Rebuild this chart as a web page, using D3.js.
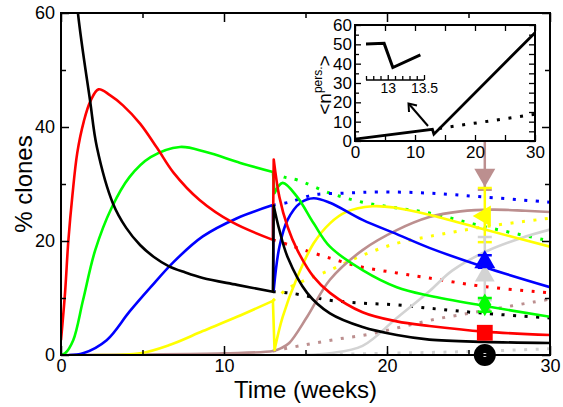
<!DOCTYPE html>
<html>
<head>
<meta charset="utf-8">
<script src="https://cdn.jsdelivr.net/npm/d3@7"></script>
<style>
  body { margin: 0; background: #fff; }
  svg { display: block; font-family: "Liberation Sans", Arial, Helvetica, sans-serif; }
  .tick text { fill: #000; }
</style>
</head>
<body>
<svg id="chart" width="563" height="407"></svg>
<script>
// ---- Model output: % of clones in each class over time (weeks) ----
const blackSolid = [[0.6,76],[1.04,60],[1.78,44.7],[2.2,36.5],[3.2,26.5],[4,22.3],[4.85,19.3],[5.7,17.2],[6.6,15.6],[7.6,14.5],
  [8.7,13.5],[10.8,12.3],[13,11.1],
  [13.05,26.2],[13.4,21.9],[13.9,17.2],[15.1,10.9],[16.5,7.3],[18.5,4.9],[20.6,3.5],[22.6,2.7],[26,2.3],[30,2.1]];
const redSolid = [[0,2.6],[0.25,11],[0.45,20],[0.7,28],[1.0,35.5],[1.4,41],[1.8,44.5],[2.3,46.6],[3.0,45.6],[3.8,43.8],[4.85,40.6],
  [5.9,36.3],[6.9,32.0],[8.5,27.2],[10.5,23.3],[13,20.2],[13.05,34.3],[13.4,27.7],[13.9,22.5],[14.5,18.4],[15.5,13.7],[16.5,10.9],
  [18.5,7.5],[20.6,5.9],[22.6,5.1],[26,4.1],[30,3.5]];
const greenSolid = [[0,0],[0.25,0.3],[0.75,2.6],[1.35,9.6],[2.1,18.4],[3.1,25.8],[4.2,31.2],[5.5,34.7],[7.3,36.5],[8.9,35.6],
  [11,33.7],[13,32.1],[13.1,28.4],[13.6,30.2],[14.5,27.7],[15.5,23.1],[16.5,19.0],[18.5,14.9],[20.6,11.9],[22.6,10.4],[26,8.6],[30,6.7]];
const blueSolid = [[0.5,0],[1.35,0.3],[2.8,2.6],[4.2,7.6],[5.5,11.9],[6.9,16.3],[8.7,20.8],[10.8,24.0],[13,26.3],[13.05,11.4],
  [13.4,19],[13.9,23.7],[14.7,26.7],[15.5,27.5],[16.5,26.7],[18.5,23.7],[20.6,21.2],[22.6,18.8],[26,15.4],[30,11.9]];
const yellowSolid = [[2,0],[4.85,0.3],[6.7,1.8],[8.7,4.2],[10.8,6.7],[13,9.5],[13.1,0.9],[13.6,6.7],[14.5,13.7],[15.5,19.6],
  [16.5,23.1],[17.5,25.1],[19.1,26.1],[20.6,25.8],[22.6,24.6],[26,22],[30,19]];
const brownSolid = [[0,0],[5,0.1],[10,0.3],[13,0.7],[13.5,1.2],[14,2.1],[15.1,6.7],[16.5,13.2],[18.5,18.4],[20.6,21.9],
  [22.6,24.2],[24.5,25.2],[26.5,25.5],[28.5,25.3],[30,25.1]];
const graySolid = [[15,0],[16.5,0.3],[18.5,1.6],[20.6,6.5],[22.6,11.2],[24,14.8],[26.1,18.2],[28.2,20.5],[30,22]];

const blueDotted   = [[13,26.3],[14,26.8],[15.5,28.1],[17.5,28.4],[19.5,28.6],[22.6,28.4],[26,27.7],[30,26.8]];
const greenDotted  = [[13,32],[13.7,31.2],[14.5,30.7],[16.5,28.4],[18.5,26.8],[20.6,25.8],[22.6,24.9],[26,22.5],[30,20]];
const yellowDotted = [[13,9.5],[14,11.8],[16.5,14.9],[18.5,17.5],[20.6,19.6],[22.6,20.8],[26,22.5],[30,24]];
const redDotted    = [[13,20.2],[14,19.3],[14.5,18.8],[16.5,17],[18.5,15.4],[20.6,14.4],[22.6,13.5],[26,12],[30,10.9]];
const blackDotted  = [[13,11.1],[14,10.9],[16.5,9.6],[18.5,9.1],[20.6,8.8],[22.6,8.2],[26,7.3],[30,6.5]];
const brownDotted  = [[13,0.7],[15,1.8],[17,2.8],[19,3.7],[21,5],[23,6.3],[25,7.3],[27,8.3],[29,9.3],[30,9.8]];
const grayDotted   = [[15,0],[20,0.3],[25,0.6],[30,1.1]];

// ---- Measured data at week 26 (mean with error bars) ----
const markerTime   = 26;
const markerNames  = ["brown", "yellow", "gray", "blue", "green", "red", "black"];
const markerValues = [31.6, 24.4, 13.9, 16.3, 8.8, 3.9, 0];
const markerLow    = [29.0, 19.8, 9.6, 15.3, 7.6, 3.9, 0];
const markerHigh   = [45.0, 29.3, 20.7, 17.5, 10.0, 3.9, 0];

// ---- Inset: mean persistent clone size <n pers.> ----
const insetSolid  = [[0,1],[12.9,6],[13.15,3.5],[30,56]];
const insetDotted = [[14,6.5],[30,13.8]];
const zoomSolid   = [[12.7,50.2],[12.95,50.5],[13.07,38],[13.45,44.5]];

// ---- Tick labels ----
const xMajor = [0,10,20,30], xMinor = [5,15,25];
const yMajor = [0,20,40,60], yMinor = [10,30,50];
const insetXMajor = [0,10,20,30], insetXMinor = [5,15,25];
const insetYMajor = [0,10,20,30,40,50,60], insetYMinor = [5,15,25,35,45,55];
const zoomMajor = [13,13.5], zoomMinor = [12.7,12.8,12.9,13.1,13.2,13.3,13.4];

const colors = {
  black: "#000000", red: "#ff0000", green: "#00ff00", blue: "#0000ff",
  yellow: "#ffff00", brown: "#bc8f8f", gray: "#d3d3d3"
};

const svg = d3.select("#chart");
const x = d3.scaleLinear().domain([0,30]).range([61,550]);
const y = d3.scaleLinear().domain([0,60]).range([355,13]);

svg.append("defs").append("clipPath").attr("id","plotClip")
  .append("rect").attr("x",61).attr("y",13).attr("width",489).attr("height",342);

// Smooth curve through each stretch; the treatment switch at week 13 is a sharp jump,
// so the series is split there and the pieces are joined by a straight segment.
const smooth = d3.line().x(d => x(d[0])).y(d => y(d[1])).curve(d3.curveCatmullRom.alpha(0.5));
function pathWithJumps(data) {
  const pieces = [];
  let cur = [data[0]];
  for (let i = 1; i < data.length; i++) {
    if (data[i][0] - data[i-1][0] < 0.15) { pieces.push(cur); cur = [data[i]]; }
    else cur.push(data[i]);
  }
  pieces.push(cur);
  let d = "";
  pieces.forEach((p, k) => {
    let s = smooth(p.length === 1 ? [p[0], p[0]] : p);
    if (k > 0) s = "L" + s.slice(1);
    d += s;
  });
  return d;
}
const curves = svg.append("g").attr("clip-path","url(#plotClip)");

// dotted continuations first, solid curves on top
const dotted = [
  [grayDotted, "gray"], [brownDotted, "brown"], [blackDotted, "black"], [redDotted, "red"],
  [yellowDotted, "yellow"], [greenDotted, "green"], [blueDotted, "blue"]
];
dotted.forEach(([data, c]) => {
  curves.append("path").attr("d", smooth(data)).attr("fill","none")
    .attr("stroke", colors[c]).attr("stroke-width", 3)
    .attr("stroke-dasharray", "3 8.5");
});

const solid = [
  [graySolid, "gray"], [brownSolid, "brown"], [yellowSolid, "yellow"], [blueSolid, "blue"],
  [greenSolid, "green"], [redSolid, "red"], [blackSolid, "black"]
];
solid.forEach(([data, c]) => {
  curves.append("path").attr("d", pathWithJumps(data)).attr("fill","none")
    .attr("stroke", colors[c]).attr("stroke-width", 2.6).attr("stroke-linejoin","round");
});

// error bars and markers
const mx = x(markerTime);
const bars = svg.append("g");
markerNames.forEach((n, i) => {
  if (markerLow[i] === markerHigh[i]) return;
  bars.append("line").attr("x1",mx).attr("x2",mx)
    .attr("y1",y(markerLow[i])).attr("y2",y(markerHigh[i]))
    .attr("stroke",colors[n]).attr("stroke-width",2.5);
  [markerLow[i], markerHigh[i]].forEach(v => {
    bars.append("line").attr("x1",mx-7).attr("x2",mx+7)
      .attr("y1",y(v)).attr("y2",y(v))
      .attr("stroke",colors[n]).attr("stroke-width",2.5);
  });
});

const shapes = {
  brown:  { type: d3.symbolTriangle, size: 190, rot: 180 },
  yellow: { type: d3.symbolTriangle, size: 190, rot: -90 },
  gray:   { type: d3.symbolTriangle, size: 170, rot: 0 },
  blue:   { type: d3.symbolTriangle, size: 190, rot: 0 },
  green:  { type: d3.symbolDiamond,  size: 150, rot: 0 },
  red:    { type: d3.symbolSquare,   size: 250, rot: 0 },
  black:  { type: d3.symbolCircle,   size: 380, rot: 0 }
};
const drawOrder = ["brown","yellow","gray","blue","green","red","black"];
drawOrder.forEach(n => {
  const i = markerNames.indexOf(n);
  const s = shapes[n];
  bars.append("path")
    .attr("d", d3.symbol().type(s.type).size(s.size)())
    .attr("transform", `translate(${mx},${y(markerValues[i])}) rotate(${s.rot})`)
    .attr("fill", colors[n]);
});
bars.append("circle").attr("cx",mx).attr("cy",y(markerValues[markerNames.indexOf("black")]))
  .attr("r",2).attr("fill","#fff");

// ---- main axes ----
function styleAxis(g, fs) {
  g.select(".domain").remove();
  g.selectAll(".tick line").attr("stroke","#000").attr("stroke-width",1.5);
  g.selectAll(".tick text").attr("font-size", fs).attr("font-family", "Liberation Sans, Arial, sans-serif");
}
const axB = svg.append("g").attr("transform","translate(0,355)")
  .call(d3.axisBottom(x).tickValues(xMajor).tickSize(-9).tickPadding(4).tickFormat(d3.format("d")));
styleAxis(axB, 18);
const axBm = svg.append("g").attr("transform","translate(0,355)")
  .call(d3.axisBottom(x).tickValues(xMinor).tickSize(-5).tickFormat(""));
styleAxis(axBm, 18);
const axT = svg.append("g").attr("transform","translate(0,13)")
  .call(d3.axisTop(x).tickValues(xMajor).tickSize(-9).tickFormat(""));
styleAxis(axT, 18);
const axTm = svg.append("g").attr("transform","translate(0,13)")
  .call(d3.axisTop(x).tickValues(xMinor).tickSize(-5).tickFormat(""));
styleAxis(axTm, 18);
const axL = svg.append("g").attr("transform","translate(61,0)")
  .call(d3.axisLeft(y).tickValues(yMajor).tickSize(-8).tickPadding(6).tickFormat(d3.format("d")));
styleAxis(axL, 18);
const axLm = svg.append("g").attr("transform","translate(61,0)")
  .call(d3.axisLeft(y).tickValues(yMinor).tickSize(-5).tickFormat(""));
styleAxis(axLm, 18);
const axR = svg.append("g").attr("transform","translate(550,0)")
  .call(d3.axisRight(y).tickValues(yMajor).tickSize(-8).tickFormat(""));
styleAxis(axR, 18);
const axRm = svg.append("g").attr("transform","translate(550,0)")
  .call(d3.axisRight(y).tickValues(yMinor).tickSize(-5).tickFormat(""));
styleAxis(axRm, 18);

svg.append("rect").attr("x",61).attr("y",13).attr("width",489).attr("height",342)
  .attr("fill","none").attr("stroke","#000").attr("stroke-width",2);

svg.append("text").attr("x",305.5).attr("y",398).attr("text-anchor","middle")
  .attr("font-size",24).text("Time (weeks)");
svg.append("text").attr("transform","translate(32,184) rotate(-90)").attr("text-anchor","middle")
  .attr("font-size",24).text("% clones");

// ---- inset ----
const xi = d3.scaleLinear().domain([0,30]).range([355,535]);
const yi = d3.scaleLinear().domain([0,60]).range([141,25]);
const inset = svg.append("g");
inset.append("rect").attr("x",355).attr("y",25).attr("width",180).attr("height",116).attr("fill","#fff");

const iline = d3.line().x(d => xi(d[0])).y(d => yi(d[1]));
inset.append("path").attr("d", iline(insetDotted)).attr("fill","none").attr("stroke","#000")
  .attr("stroke-width",3).attr("stroke-dasharray","3 8.7");
inset.append("path").attr("d", iline(insetSolid)).attr("fill","none").attr("stroke","#000")
  .attr("stroke-width",2.8).attr("stroke-linejoin","miter");

const iB = inset.append("g").attr("transform","translate(0,141)")
  .call(d3.axisBottom(xi).tickValues(insetXMajor).tickSize(-6).tickPadding(5).tickFormat(d3.format("d")));
styleAxis(iB, 17);
const iBm = inset.append("g").attr("transform","translate(0,141)")
  .call(d3.axisBottom(xi).tickValues(insetXMinor).tickSize(-6).tickFormat(""));
styleAxis(iBm, 17);
const iT = inset.append("g").attr("transform","translate(0,25)")
  .call(d3.axisTop(xi).tickValues(insetXMajor.concat(insetXMinor)).tickSize(-6).tickFormat(""));
styleAxis(iT, 17);
const iL = inset.append("g").attr("transform","translate(355,0)")
  .call(d3.axisLeft(yi).tickValues(insetYMajor).tickSize(-6).tickPadding(3).tickFormat(d3.format("d")));
styleAxis(iL, 17);
const iLm = inset.append("g").attr("transform","translate(355,0)")
  .call(d3.axisLeft(yi).tickValues(insetYMinor).tickSize(-4).tickFormat(""));
styleAxis(iLm, 17);
const iR = inset.append("g").attr("transform","translate(535,0)")
  .call(d3.axisRight(yi).tickValues(insetYMajor.concat(insetYMinor)).tickSize(-6).tickFormat(""));
styleAxis(iR, 17);
inset.selectAll(".tick line").attr("stroke-width",1.3);
inset.append("rect").attr("x",355).attr("y",25).attr("width",180).attr("height",116)
  .attr("fill","none").attr("stroke","#000").attr("stroke-width",2);

// inset y label: <n^pers.>
const ilab = inset.append("text").attr("transform","translate(331,85) rotate(-90)")
  .attr("text-anchor","middle").attr("font-size",19);
ilab.append("tspan").text("<n");
ilab.append("tspan").attr("font-size",12).attr("dy",-9).text("pers.");
ilab.append("tspan").attr("dy",9).text(">");

// zoomed view around week 13
const xz = d3.scaleLinear().domain([12.7,13.5]).range([366,424]);
const zline = d3.line().x(d => xz(d[0])).y(d => yi(d[1]));
inset.append("path").attr("d", zline(zoomSolid)).attr("fill","none").attr("stroke","#000")
  .attr("stroke-width",3).attr("stroke-linejoin","miter");
const zB = inset.append("g").attr("transform","translate(0,80)")
  .call(d3.axisBottom(xz).tickValues(zoomMajor).tickSize(-5).tickPadding(3).tickFormat(d => d === 13 ? "13" : "13.5"));
zB.selectAll(".tick text").attr("font-size",14);
zB.select(".domain").remove();
zB.selectAll(".tick line").attr("stroke","#000").attr("stroke-width",1.3);
const zBm = inset.append("g").attr("transform","translate(0,80)")
  .call(d3.axisBottom(xz).tickValues(zoomMinor).tickSize(-4).tickFormat(""));
zBm.select(".domain").remove();
zBm.selectAll(".tick line").attr("stroke","#000").attr("stroke-width",1.3);
inset.append("line").attr("x1",xz(12.7)).attr("x2",xz(13.5)).attr("y1",80).attr("y2",80)
  .attr("stroke","#000").attr("stroke-width",1.5);

// arrow pointing from the dip to the zoomed view
inset.append("line").attr("x1",428).attr("y1",126).attr("x2",409).attr("y2",104)
  .attr("stroke","#000").attr("stroke-width",2);
inset.append("path").attr("d","M409,112 L408.5,103.5 L417,105.5").attr("fill","none")
  .attr("stroke","#000").attr("stroke-width",2);
</script>
</body>
</html>
